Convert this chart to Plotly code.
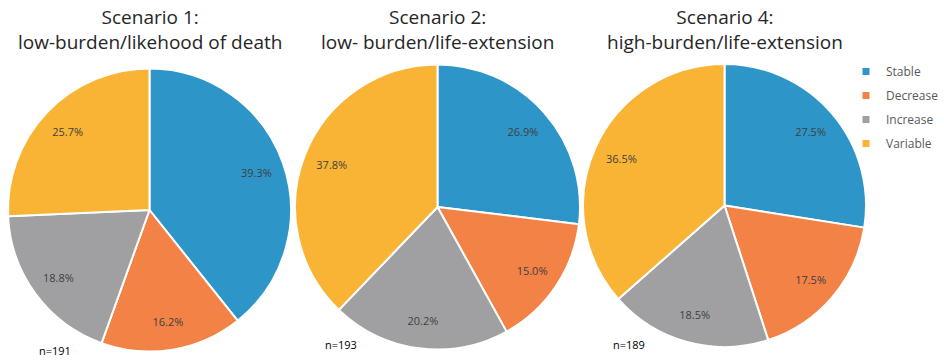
import plotly.graph_objects as go

labels = ["Stable", "Decrease", "Increase", "Variable"]
colors = ["#2E95C8", "#F38246", "#A0A0A3", "#F9B435"]
titles = ["Scenario 1:<br>low-burden/likehood of death",
          "Scenario 2:<br>low- burden/life-extension",
          "Scenario 4:<br>high-burden/life-extension"]
s1 = [39.3, 16.2, 18.8, 25.7]
s2 = [26.9, 15.0, 20.2, 37.8]
s4 = [27.5, 17.5, 18.5, 36.5]
ns = ["n=191", "n=193", "n=189"]

W, H = 944, 362
# pixel boxes (left, right, top, bottom) for each pie
boxes = [(8, 291, 68, 352), (295, 580, 64, 350), (583, 866, 64, 347)]
n_pos = [(37, 350), (323, 344), (611, 344)]
series = [s1, s2, s4]

fig = go.Figure()
for i, (vals, box) in enumerate(zip(series, boxes)):
    l, r, t, b = box
    dom = dict(x=[l / W, r / W], y=[1 - b / H, 1 - t / H])
    fig.add_trace(go.Pie(
        labels=labels, values=vals, sort=False, direction="clockwise", rotation=0,
        marker=dict(colors=colors, line=dict(color="white", width=2)),
        textinfo="none", domain=dom, showlegend=False, hoverinfo="label+value",
    ))
    # transparent ring used only to place the percentage labels further out
    fig.add_trace(go.Pie(
        labels=labels, values=vals, sort=False, direction="clockwise", rotation=0, hole=0.6,
        marker=dict(colors=["rgba(0,0,0,0)"] * 4, line=dict(width=0)),
        texttemplate="%{value:.1f}%", textposition="inside",
        insidetextorientation="horizontal",
        textfont=dict(size=11, color="#404040", family="Open Sans"),
        domain=dom, showlegend=False, hoverinfo="skip",
    ))
    fig.add_annotation(text=titles[i], x=(l + r) / 2 / W, y=1 - 2 / H, xref="paper", yref="paper",
                       xanchor="center", yanchor="top", showarrow=False,
                       font=dict(size=19, color="#262626", family="Open Sans"))
    fig.add_annotation(text=ns[i], x=n_pos[i][0] / W, y=1 - n_pos[i][1] / H, xref="paper", yref="paper",
                       xanchor="left", yanchor="middle", showarrow=False,
                       font=dict(size=11, color="#000000", family="Open Sans"))

# legend entries
for lab, col in zip(labels, colors):
    fig.add_trace(go.Scatter(x=[None], y=[None], mode="markers", name=lab, legendgroup=lab,
                             marker=dict(symbol="square", size=7, color=col)))

fig.update_layout(
    width=W, height=H, margin=dict(l=0, r=0, t=0, b=0),
    paper_bgcolor="white", plot_bgcolor="white",
    xaxis=dict(visible=False), yaxis=dict(visible=False),
    legend=dict(x=1.0, y=1 - 57 / H, xanchor="right", yanchor="top",
                font=dict(size=12, color="#595959", family="Open Sans"),
                tracegroupgap=5, itemwidth=30, bgcolor="rgba(0,0,0,0)"),
)
fig.write_html("out.html")
